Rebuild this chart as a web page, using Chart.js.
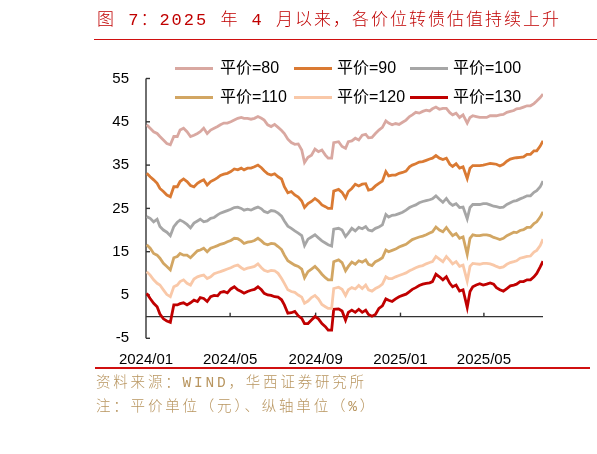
<!DOCTYPE html>
<html>
<head>
<meta charset="utf-8">
<script src="https://cdn.jsdelivr.net/npm/chart.js@4/dist/chart.umd.min.js"></script>
<style>
  html,body{margin:0;padding:0;background:#fff;}
  #wrap{position:relative;width:597px;height:454px;overflow:hidden;background:#fff;}
  #c{position:absolute;left:0;top:0;}
  .title{position:absolute;left:97px;top:10px;font-size:17px;line-height:22px;color:#C00000;font-weight:300;
    font-family:"Liberation Mono","Noto Sans CJK SC",sans-serif;letter-spacing:2px;white-space:nowrap;}
  .rule{position:absolute;background:#D01010;}
  .note{position:absolute;left:96px;font-size:14.5px;line-height:18px;color:#B8955F;font-weight:300;
    font-family:"Liberation Mono","Noto Sans CJK SC",sans-serif;letter-spacing:2.8px;white-space:nowrap;}
  .lg{position:absolute;font-family:"Liberation Sans","Noto Sans CJK SC",sans-serif;font-size:16px;line-height:20px;color:#000;white-space:nowrap;}
  .lgline{position:absolute;height:3px;}
</style>
</head>
<body>
<div id="wrap">
  <canvas id="c" width="597" height="454" style="width:597px;height:454px"></canvas>
  <div class="title">图 7：2025 年 4 月以来，各价位转债估值持续上升</div>
  <div class="rule" style="left:94px;top:38.5px;width:503px;height:1.6px"></div>
  <div id="legend"></div>
  <div class="rule" style="left:95px;top:367px;width:495px;height:1.6px"></div>
  <div class="note" style="top:374px">资料来源：WIND，华西证券研究所</div>
  <div class="note" style="top:398px">注：平价单位（元）、纵轴单位（%）</div>
</div>
<script>
const dates = [
'2024-01-02','2024-01-07','2024-01-12','2024-01-17','2024-01-21','2024-01-26','2024-01-31','2024-02-05','2024-02-10','2024-02-15',
'2024-02-19','2024-02-24','2024-02-29','2024-03-05','2024-03-10','2024-03-15','2024-03-19','2024-03-24','2024-03-29','2024-04-03',
'2024-04-08','2024-04-13','2024-04-17','2024-04-22','2024-04-27','2024-05-02','2024-05-07','2024-05-12','2024-05-17','2024-05-21',
'2024-05-26','2024-05-31','2024-06-05','2024-06-10','2024-06-15','2024-06-19','2024-06-24','2024-06-29','2024-07-04','2024-07-09',
'2024-07-14','2024-07-18','2024-07-23','2024-07-28','2024-08-02','2024-08-07','2024-08-12','2024-08-16','2024-08-21','2024-08-26',
'2024-08-31','2024-09-05','2024-09-10','2024-09-15','2024-09-19','2024-09-24','2024-09-27','2024-10-04','2024-10-09','2024-10-14',
'2024-10-18','2024-10-23','2024-10-28','2024-11-02','2024-11-07','2024-11-12','2024-11-16','2024-11-21','2024-11-26','2024-12-01',
'2024-12-06','2024-12-11','2024-12-15','2024-12-20','2024-12-25','2024-12-30','2025-01-04','2025-01-09','2025-01-14','2025-01-18',
'2025-01-23','2025-01-28','2025-02-02','2025-02-07','2025-02-12','2025-02-16','2025-02-21','2025-02-26','2025-03-03','2025-03-08',
'2025-03-13','2025-03-17','2025-03-22','2025-03-27','2025-04-01','2025-04-07','2025-04-11','2025-04-15','2025-04-20','2025-04-25',
'2025-04-30','2025-05-05','2025-05-10','2025-05-15','2025-05-19','2025-05-24','2025-05-29','2025-06-03','2025-06-08','2025-06-13',
'2025-06-17','2025-06-22','2025-06-27','2025-07-02','2025-07-07','2025-07-12','2025-07-16','2025-07-21','2025-07-25'];

const s80 = [44.3,43.5,42.7,42.3,41.6,40.8,40.0,39.7,41.6,41.6, 43.1,43.5,42.7,41.6,41.9,42.3,42.7,43.5,42.3,43.1,
 43.5,43.9,44.3,44.7,44.7,45.0,45.4,45.8,46.0,45.8, 45.8,45.6,45.8,46.2,45.8,45.4,44.3,43.9,44.4,43.7,
 43.0,42.3,41.0,40.2,39.8,39.9,38.5,35.6,36.8,37.3, 38.7,38.1,38.5,37.3,36.6,36.6,40.2,40.4,39.3,38.9,
 40.4,40.6,41.2,40.8,41.9,42.1,41.3,41.4,42.3,43.1, 43.7,45.2,44.7,44.3,44.6,44.4,44.9,45.4,46.2,46.6,
 47.2,47.0,47.4,47.7,47.5,48.0,48.4,47.9,48.1,48.1, 47.1,46.6,47.0,46.0,46.6,44.7,46.0,46.4,46.2,46.0,
 46.0,46.0,46.4,46.4,46.4,46.6,46.7,47.2,47.4,47.6, 48.0,48.1,48.4,48.7,48.7,49.2,49.8,50.6,51.4];
const s90 = [33.1,32.3,31.6,30.8,29.6,28.9,28.1,27.7,30.0,30.0, 31.2,31.8,31.2,30.3,30.0,30.8,31.2,31.6,30.4,31.2,
 31.6,32.1,32.6,32.9,33.1,33.5,34.1,33.9,34.3,33.9, 34.3,34.3,34.6,35.0,34.4,33.7,33.0,32.7,33.0,32.3,
 31.8,30.0,28.6,28.9,28.1,27.6,26.7,25.2,26.1,26.6, 27.3,26.7,25.8,25.4,25.0,25.0,29.0,29.4,28.7,27.4,
 28.9,29.6,30.6,30.2,30.6,30.7,29.2,29.4,30.2,30.8, 31.3,33.5,32.5,32.7,32.7,33.1,33.3,33.6,34.6,35.0,
 35.3,35.7,35.8,36.1,36.4,36.6,37.2,36.6,36.3,36.6, 35.2,34.7,35.3,34.3,34.6,31.9,34.3,34.9,34.9,34.9,
 35.0,35.2,35.4,35.3,35.2,34.8,35.2,35.9,36.4,36.6, 36.7,36.8,36.9,37.5,37.5,38.3,38.3,39.4,40.6];
const s100 = [23.1,22.7,21.9,22.5,20.8,20.0,19.5,18.7,20.8,21.8, 22.3,21.9,21.3,20.5,21.6,22.1,22.5,21.9,22.1,22.7,
 22.9,23.5,23.9,24.2,24.5,24.8,25.2,25.3,25.0,24.6, 24.8,24.6,25.0,25.3,24.9,24.3,24.0,24.5,24.4,23.9,
 23.2,22.1,20.9,20.4,19.8,19.3,18.7,16.4,17.9,18.4, 18.9,18.2,17.5,17.0,16.6,16.3,20.2,20.4,20.0,18.5,
 19.3,20.4,19.8,20.6,20.3,20.8,20.0,19.8,20.4,20.7, 21.2,23.6,23.0,23.4,23.5,23.8,24.1,24.6,25.2,25.5,
 25.8,26.3,26.6,26.8,27.0,27.2,27.9,27.1,26.4,27.3, 26.2,25.7,26.1,25.2,25.3,22.6,25.2,25.9,25.9,25.9,
 26.1,26.1,25.8,25.5,25.4,25.2,25.3,25.9,26.3,26.7, 26.8,27.2,27.5,27.9,27.9,28.7,29.1,30.0,31.3];
const s110 = [16.6,15.8,14.6,14.2,13.5,12.3,11.6,10.8,13.6,13.9, 14.6,14.2,14.2,13.6,14.4,15.2,15.4,15.8,15.0,15.8,
 16.1,16.4,16.7,16.9,17.3,17.6,18.1,18.0,17.5,16.9, 17.2,17.3,17.6,18.1,17.5,16.9,16.6,16.9,16.8,16.2,
 15.5,14.2,12.9,12.4,11.9,11.6,11.0,9.0,10.4,11.0, 11.6,10.8,9.8,9.0,8.5,8.5,12.7,13.1,12.5,10.6,
 11.6,12.6,12.1,12.9,12.6,13.1,12.1,11.8,12.7,13.1, 13.6,15.4,15.0,15.3,15.6,16.1,16.4,16.7,17.3,17.8,
 18.1,18.4,18.6,18.9,19.3,19.6,20.7,20.0,19.6,20.6, 19.5,18.7,19.2,18.1,18.4,14.4,18.1,18.9,18.7,18.7,
 18.9,18.9,18.7,18.3,18.1,17.8,18.1,18.7,19.1,19.5, 19.4,19.9,20.1,20.6,20.6,21.5,21.9,23.0,24.2];
const s120 = [10.4,9.6,8.5,7.7,7.3,6.2,5.1,4.6,6.9,7.3, 8.1,8.5,7.7,7.3,8.7,9.2,9.4,9.6,8.8,9.2,
 9.9,10.2,10.4,10.7,11.0,11.3,11.7,11.9,11.3,10.9, 11.2,11.4,11.6,12.2,11.3,10.7,10.4,10.7,10.6,10.0,
 8.8,7.7,6.2,5.8,5.6,5.0,4.5,3.1,3.6,4.4, 4.9,4.1,2.8,2.3,1.9,1.9,6.5,6.8,6.3,4.9,
 6.2,6.7,6.4,7.2,6.5,7.3,6.2,5.9,6.5,6.9, 7.5,9.2,8.8,8.8,9.2,9.5,9.8,10.1,10.6,10.9,
 11.3,11.6,11.8,12.2,12.5,12.7,13.9,13.3,12.7,13.9, 13.0,12.2,12.7,11.6,11.9,8.2,11.6,12.3,12.2,12.1,
 12.3,12.3,12.2,11.9,11.6,11.3,11.5,12.1,12.5,12.7, 12.9,13.5,13.7,13.9,14.0,14.9,15.3,16.4,17.9];
const s130 = [5.4,4.2,3.1,2.3,0.6,-0.5,-1.0,-1.3,2.7,2.7, 3.0,3.2,2.7,3.2,3.8,3.5,4.4,4.2,3.5,4.6,
 4.9,4.8,5.6,5.8,5.5,6.4,6.9,6.2,5.8,5.4, 5.8,6.1,6.3,6.9,6.2,5.4,5.0,4.9,4.6,4.5,
 3.9,2.7,0.8,0.9,1.2,0.2,-0.4,-1.6,-1.6,-0.8, 0.0,-0.5,-1.6,-2.3,-3.1,-3.1,1.7,1.8,1.3,-0.8,
 1.0,1.5,1.0,1.7,1.0,1.5,0.5,0.1,0.5,1.9, 2.5,4.1,3.8,3.5,4.1,4.6,4.9,5.2,5.8,6.3,
 6.7,7.2,7.5,7.7,7.8,8.1,9.8,9.2,8.5,9.2, 7.7,6.9,7.3,5.9,6.2,2.1,5.8,6.9,7.3,7.6,
 7.3,7.5,7.8,7.5,6.7,6.2,5.9,6.5,7.1,7.3, 7.5,8.1,8.1,8.5,8.5,9.2,10.0,11.5,12.8];

const seriesLabels = ['平价=80','平价=90','平价=100','平价=110','平价=120','平价=130'];
const seriesColors = ['#D9A8A1','#DA7A33','#A6A6A6','#D2A663','#F9C8A8','#C00000'];
const seriesData = [s80,s90,s100,s110,s120,s130];

const tickLabels = ['2024/01','2024/05','2024/09','2025/01','2025/05'];
const tickDates  = ['2024-01-01','2024-05-01','2024-09-01','2025-01-01','2025-05-01'];
const axisStart = '2024-01-01';
const axisEnd = '2025-07-25';
const yMin = -5, yMax = 55, yStep = 10;

const base = Date.parse(axisStart);
function dayOf(s){ return (Date.parse(s) - base) / 86400000; }
const tickDays = tickDates.map(dayOf);

// HTML legend (3 columns x 2 rows)
const legendPos = [
  {lx:175, tx:220, y:68}, {lx:294, tx:337, y:68}, {lx:410, tx:453, y:68},
  {lx:175, tx:220, y:97}, {lx:294, tx:337, y:97}, {lx:410, tx:453, y:97}
];
const lg = document.getElementById('legend');
seriesLabels.forEach((lab, i) => {
  const p = legendPos[i];
  const ln = document.createElement('div');
  ln.className = 'lgline';
  ln.style.left = p.lx + 'px'; ln.style.top = (p.y - 1.5) + 'px';
  ln.style.width = '38px'; ln.style.background = seriesColors[i];
  lg.appendChild(ln);
  const tx = document.createElement('div');
  tx.className = 'lg';
  tx.style.left = p.tx + 'px'; tx.style.top = (p.y - 10) + 'px';
  tx.textContent = lab;
  lg.appendChild(tx);
});

const axesPlugin = {
  id: 'excelAxes',
  beforeDatasetsDraw(chart) {
    const {ctx, chartArea, scales} = chart;
    const x = scales.x, y = scales.y;
    ctx.save();
    ctx.strokeStyle = '#333';
    ctx.lineWidth = 1.4;
    ctx.beginPath();
    ctx.moveTo(chartArea.left, y.getPixelForValue(yMax));
    ctx.lineTo(chartArea.left, y.getPixelForValue(yMin));
    ctx.stroke();
    y.ticks.forEach(t => {
      const py = y.getPixelForValue(t.value);
      ctx.beginPath();
      ctx.moveTo(chartArea.left, py);
      ctx.lineTo(chartArea.left + 4, py);
      ctx.stroke();
    });
    const y0 = y.getPixelForValue(0);
    ctx.beginPath();
    ctx.moveTo(chartArea.left, y0);
    ctx.lineTo(chartArea.right, y0);
    ctx.stroke();
    tickDays.forEach((d, i) => {
      if (i === 0) return;
      const px = x.getPixelForValue(d);
      ctx.beginPath();
      ctx.moveTo(px, y0);
      ctx.lineTo(px, y0 - 4);
      ctx.stroke();
    });
    ctx.restore();
  }
};

new Chart(document.getElementById('c'), {
  type: 'line',
  data: {
    datasets: seriesLabels.map((lab, i) => ({
      label: lab,
      data: dates.map((d, j) => ({x: dayOf(d), y: seriesData[i][j]})),
      borderColor: seriesColors[i],
      backgroundColor: seriesColors[i],
      borderWidth: 2.8,
      pointRadius: 0,
      fill: false,
      tension: 0
    }))
  },
  options: {
    responsive: false,
    animation: false,
    devicePixelRatio: 1,
    layout: { padding: { left: 0, right: 54, top: 78.5, bottom: 75.7 } },
    plugins: { legend: { display: false }, tooltip: { enabled: false } },
    scales: {
      x: {
        type: 'linear',
        min: dayOf(axisStart),
        max: dayOf(axisEnd),
        afterBuildTicks(scale) { scale.ticks = tickDays.map(v => ({value: v})); },
        afterFit(scale) { scale.height = 40; },
        grid: { display: false, drawTicks: false },
        border: { display: false },
        ticks: {
          autoSkip: false, maxRotation: 0, minRotation: 0, padding: 13,
          color: '#000',
          font: { family: '"Liberation Sans", Arial, sans-serif', size: 15 },
          callback(v) { const i = tickDays.indexOf(v); return i >= 0 ? tickLabels[i] : ''; }
        }
      },
      y: {
        min: yMin, max: yMax,
        afterFit(scale) { scale.width = 146; },
        grid: { display: false, drawTicks: false },
        border: { display: false },
        ticks: {
          stepSize: yStep, padding: 17, color: '#000',
          font: { family: '"Liberation Sans", Arial, sans-serif', size: 15 }
        }
      }
    }
  },
  plugins: [axesPlugin]
});
</script>
</body>
</html>
